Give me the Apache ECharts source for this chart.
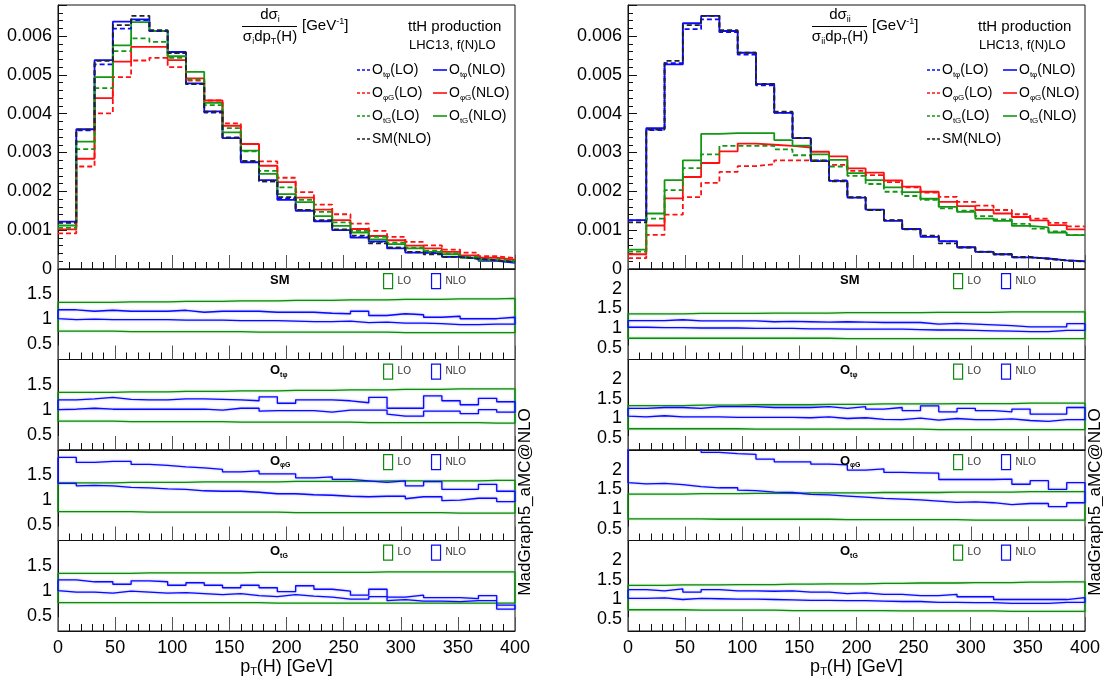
<!DOCTYPE html>
<html><head><meta charset="utf-8">
<script src="https://cdn.jsdelivr.net/npm/echarts@6/dist/echarts.min.js"></script>
<style>html,body{margin:0;padding:0;background:#fff}#c{width:1103px;height:681px}</style>
</head><body><div id="c"></div>
<script>
// ---------------- DATA ----------------
// bin edges of p_T(H) [GeV]
const binEdges = [0,16,32,48,64,80,96,112,128,144,160,176,192,208,224,240,256,272,288,304,320,336,352,368,384,400];

// Left main panel: (1/sigma_i) dsigma_i/dpT, units of 1e-3 GeV^-1
const L_tphi_LO  = [1.19,3.57,5.27,6.19,6.41,6.13,5.56,4.76,4.03,3.39,2.78,2.26,1.82,1.52,1.24,1.01,0.82,0.70,0.55,0.43,0.39,0.31,0.27,0.22,0.17];
const L_tphi_NLO = [1.22,3.60,5.38,6.37,6.43,6.13,5.59,4.78,4.06,3.37,2.75,2.29,1.78,1.50,1.23,1.00,0.81,0.71,0.53,0.42,0.40,0.31,0.27,0.21,0.16];
const L_phiG_LO  = [0.92,2.64,4.01,4.94,5.37,5.44,5.20,4.85,4.34,3.75,3.22,2.77,2.35,1.98,1.66,1.41,1.17,0.98,0.83,0.70,0.61,0.50,0.42,0.33,0.28];
const L_phiG_NLO = [1.02,2.84,4.40,5.34,5.72,5.72,5.38,4.91,4.34,3.69,3.22,2.66,2.24,1.84,1.53,1.26,1.03,0.85,0.74,0.60,0.53,0.44,0.35,0.29,0.24];
const L_tG_LO    = [1.06,3.09,4.66,5.61,5.94,5.85,5.44,4.88,4.22,3.63,3.03,2.53,2.10,1.78,1.47,1.20,0.98,0.83,0.68,0.55,0.47,0.40,0.31,0.25,0.21];
const L_tG_NLO   = [1.12,3.28,4.94,5.76,6.36,6.13,5.48,5.08,4.28,3.52,3.05,2.45,1.93,1.72,1.36,1.11,0.94,0.76,0.64,0.53,0.44,0.38,0.29,0.23,0.18];
const L_SM_NLO   = [1.20,3.59,5.36,6.28,6.52,6.15,5.57,4.77,4.05,3.38,2.78,2.26,1.85,1.52,1.26,1.02,0.86,0.66,0.55,0.44,0.38,0.31,0.26,0.22,0.19];

// Right main panel: (1/sigma_ii) dsigma_ii/dpT, units of 1e-3 GeV^-1
const R_tphi_LO  = [1.25,3.58,5.30,6.18,6.43,6.10,5.52,4.73,4.03,3.38,2.80,2.28,1.84,1.52,1.25,1.03,0.84,0.71,0.56,0.45,0.38,0.30,0.27,0.22,0.20];
const R_tphi_NLO = [1.26,3.63,5.27,6.33,6.52,6.13,5.57,4.76,4.02,3.37,2.78,2.27,1.84,1.53,1.24,1.03,0.83,0.72,0.56,0.44,0.38,0.30,0.27,0.22,0.20];
const R_phiG_LO  = [0.28,0.88,1.40,1.85,2.22,2.50,2.65,2.70,2.80,2.80,2.78,2.68,2.53,2.42,2.24,2.10,1.97,1.86,1.73,1.63,1.52,1.41,1.30,1.19,1.10];
const R_phiG_NLO = [0.38,1.12,1.82,2.37,2.73,3.03,3.23,3.20,3.17,3.13,3.02,2.90,2.59,2.48,2.28,2.12,1.99,1.73,1.62,1.52,1.43,1.34,1.25,1.13,1.02];
const R_tG_LO    = [0.45,1.30,2.03,2.60,2.95,3.17,3.17,3.17,3.08,2.93,2.80,2.64,2.40,2.19,1.99,1.88,1.78,1.56,1.50,1.36,1.28,1.16,1.04,0.97,0.87];
const R_tG_NLO   = [0.50,1.43,2.29,2.80,3.48,3.50,3.50,3.50,3.32,3.18,2.95,2.81,2.47,2.29,2.10,1.98,1.81,1.60,1.47,1.30,1.24,1.11,1.07,0.94,0.87];
const R_SM_NLO   = [1.20,3.59,5.36,6.28,6.52,6.15,5.57,4.77,4.05,3.38,2.78,2.26,1.85,1.52,1.26,1.02,0.86,0.66,0.55,0.44,0.38,0.31,0.26,0.22,0.19];

// Ratio panels (scale bands relative to central): upper / lower edges
// Left figure
const L_SM_LOup   = [1.34,1.34,1.34,1.35,1.35,1.35,1.36,1.36,1.36,1.37,1.37,1.37,1.38,1.38,1.38,1.39,1.39,1.39,1.40,1.40,1.40,1.41,1.41,1.41,1.42];
const L_SM_LOdn   = [0.76,0.76,0.76,0.76,0.75,0.75,0.75,0.75,0.75,0.75,0.75,0.74,0.74,0.74,0.74,0.74,0.74,0.74,0.74,0.73,0.73,0.73,0.73,0.73,0.73];
const L_SM_NLOup  = [1.19,1.16,1.18,1.16,1.16,1.16,1.18,1.14,1.16,1.16,1.16,1.14,1.14,1.14,1.12,1.11,1.16,1.075,1.11,1.09,1.04,1.06,1.01,1.01,1.04];
const L_SM_NLOdn  = [1.01,0.99,1.00,0.99,0.99,0.99,0.99,0.98,0.98,0.98,0.97,0.97,0.97,0.96,0.95,0.95,0.96,0.93,0.94,0.92,0.92,0.91,0.89,0.89,0.90];
const L_tphi_LOup  = [1.35,1.35,1.35,1.36,1.36,1.36,1.37,1.37,1.37,1.38,1.38,1.38,1.39,1.39,1.39,1.40,1.40,1.40,1.41,1.41,1.41,1.42,1.42,1.42,1.42];
const L_tphi_LOdn  = [0.77,0.77,0.77,0.77,0.76,0.76,0.76,0.76,0.76,0.76,0.75,0.75,0.75,0.75,0.75,0.75,0.75,0.74,0.74,0.74,0.74,0.74,0.74,0.74,0.73];
const L_tphi_NLOup = [1.20,1.22,1.25,1.21,1.20,1.20,1.22,1.22,1.21,1.20,1.18,1.26,1.13,1.20,1.20,1.18,1.14,1.25,1.03,1.03,1.28,1.18,1.10,1.23,1.16];
const L_tphi_NLOdn = [1.00,1.01,1.03,1.01,1.01,1.01,1.01,1.01,1.01,0.99,1.03,0.97,0.98,0.98,0.98,0.95,0.99,0.99,0.91,0.87,0.97,0.97,0.92,1.00,0.95];
const L_phiG_LOup  = [1.35,1.35,1.35,1.36,1.36,1.36,1.36,1.37,1.37,1.37,1.37,1.37,1.38,1.38,1.38,1.38,1.38,1.39,1.39,1.39,1.39,1.39,1.39,1.40,1.40];
const L_phiG_LOdn  = [0.77,0.77,0.77,0.77,0.77,0.76,0.76,0.76,0.76,0.76,0.76,0.76,0.76,0.75,0.75,0.75,0.75,0.75,0.75,0.75,0.75,0.75,0.74,0.74,0.74];
const L_phiG_NLOup = [1.86,1.76,1.78,1.78,1.72,1.70,1.67,1.65,1.62,1.57,1.59,1.53,1.53,1.45,1.47,1.42,1.39,1.36,1.39,1.29,1.375,1.22,1.22,1.32,1.18];
const L_phiG_NLOdn = [1.34,1.29,1.30,1.29,1.26,1.25,1.23,1.22,1.19,1.18,1.18,1.16,1.13,1.13,1.11,1.10,1.08,1.07,1.08,1.03,1.07,0.99,1.00,1.04,0.97];
const L_tG_LOup    = [1.35,1.35,1.35,1.35,1.36,1.36,1.36,1.36,1.36,1.36,1.37,1.37,1.37,1.37,1.37,1.37,1.37,1.38,1.38,1.38,1.38,1.38,1.38,1.38,1.38];
const L_tG_LOdn    = [0.76,0.76,0.76,0.76,0.76,0.76,0.76,0.76,0.76,0.76,0.76,0.76,0.75,0.75,0.75,0.75,0.75,0.75,0.75,0.75,0.75,0.75,0.75,0.75,0.75];
const L_tG_NLOup   = [1.22,1.18,1.18,1.13,1.20,1.18,1.11,1.16,1.11,1.06,1.11,1.06,0.98,1.10,1.03,0.99,0.91,1.03,0.87,0.91,0.86,0.86,0.84,0.90,0.71];
const L_tG_NLOdn   = [1.00,0.97,0.97,0.95,0.99,0.97,0.95,0.96,0.94,0.92,0.94,0.90,0.88,0.92,0.89,0.87,0.83,0.88,0.80,0.82,0.79,0.79,0.78,0.80,0.63];
// Right figure
const R_SM_LOup   = [1.36,1.36,1.36,1.37,1.37,1.37,1.37,1.38,1.38,1.38,1.38,1.39,1.39,1.39,1.39,1.39,1.40,1.40,1.40,1.40,1.41,1.41,1.41,1.41,1.41];
const R_SM_LOdn   = [0.74,0.74,0.74,0.74,0.74,0.74,0.74,0.74,0.74,0.74,0.74,0.74,0.73,0.73,0.73,0.73,0.73,0.73,0.73,0.73,0.73,0.73,0.73,0.73,0.73];
const R_SM_NLOup  = [1.19,1.19,1.21,1.18,1.18,1.18,1.18,1.16,1.17,1.16,1.15,1.16,1.15,1.14,1.14,1.14,1.10,1.12,1.10,1.08,1.06,1.03,1.03,1.03,1.11];
const R_SM_NLOdn  = [1.02,1.02,1.01,1.01,1.00,1.00,1.00,0.99,0.99,0.99,0.98,0.98,0.97,0.97,0.97,0.97,0.96,0.95,0.95,0.94,0.93,0.92,0.91,0.91,0.94];
const R_tphi_LOup  = [1.33,1.33,1.33,1.34,1.34,1.34,1.35,1.35,1.35,1.35,1.36,1.36,1.36,1.37,1.37,1.37,1.37,1.38,1.38,1.38,1.38,1.39,1.39,1.39,1.39];
const R_tphi_LOdn  = [0.74,0.74,0.74,0.74,0.74,0.74,0.74,0.73,0.73,0.73,0.73,0.73,0.73,0.73,0.73,0.73,0.73,0.72,0.72,0.72,0.72,0.72,0.72,0.72,0.72];
const R_tphi_NLOup = [1.26,1.28,1.28,1.26,1.30,1.30,1.30,1.28,1.28,1.28,1.30,1.26,1.30,1.24,1.28,1.20,1.32,1.17,1.26,1.20,1.17,1.24,1.11,1.11,1.28];
const R_tphi_NLOdn = [1.06,1.04,1.07,1.04,1.04,1.04,1.03,1.03,1.03,1.03,1.02,1.04,1.00,1.02,0.98,0.97,1.01,0.96,1.00,0.97,0.97,0.99,0.95,0.93,0.97];
const R_phiG_LOup  = [1.38,1.38,1.38,1.39,1.39,1.39,1.40,1.40,1.40,1.41,1.41,1.41,1.41,1.42,1.42,1.42,1.42,1.43,1.43,1.43,1.43,1.44,1.44,1.44,1.44];
const R_phiG_LOdn  = [0.75,0.75,0.75,0.75,0.75,0.74,0.74,0.74,0.74,0.74,0.74,0.74,0.73,0.73,0.73,0.73,0.73,0.73,0.73,0.72,0.72,0.72,0.72,0.72,0.72];
const R_phiG_NLOup = [2.70,2.65,2.62,2.60,2.44,2.41,2.39,2.27,2.20,2.20,2.14,2.12,1.99,2.02,1.93,1.92,1.91,1.75,1.75,1.75,1.76,1.63,1.72,1.50,1.67];
const R_phiG_NLOdn = [1.67,1.64,1.65,1.62,1.57,1.54,1.48,1.47,1.43,1.42,1.37,1.36,1.33,1.30,1.27,1.25,1.23,1.20,1.17,1.18,1.16,1.11,1.14,1.06,1.16];
const R_tG_LOup    = [1.36,1.36,1.37,1.37,1.37,1.38,1.38,1.38,1.39,1.39,1.40,1.40,1.40,1.41,1.41,1.42,1.42,1.42,1.43,1.43,1.43,1.44,1.44,1.45,1.45];
const R_tG_LOdn    = [0.74,0.74,0.74,0.74,0.73,0.73,0.73,0.73,0.73,0.72,0.72,0.72,0.72,0.72,0.72,0.71,0.71,0.71,0.71,0.71,0.71,0.70,0.70,0.70,0.70];
const R_tG_NLOup   = [1.25,1.22,1.27,1.19,1.25,1.22,1.22,1.21,1.22,1.19,1.19,1.15,1.17,1.13,1.13,1.10,1.10,1.13,1.07,1.07,1.00,1.00,1.00,1.00,1.05];
const R_tG_NLOdn   = [1.03,1.03,1.04,1.00,1.03,1.02,1.01,1.01,1.00,0.99,0.98,0.98,0.97,0.97,0.96,0.95,0.95,0.93,0.93,0.92,0.92,0.90,0.90,0.90,0.93];

const leftRatioTicks  = [0.5,1,1.5];
const rightRatioTicks = [0.5,1,1.5,2];
const mainYTicks = [0,0.001,0.002,0.003,0.004,0.005,0.006];

// legend entries (two columns)
const legendCol1 = ['Otφ(LO)','OφG(LO)','OtG(LO)','SM(NLO)'];
const legendCol2 = ['Otφ(NLO)','OφG(NLO)','OtG(NLO)'];

// ---------------- BUILD ----------------
const F = '"Liberation Sans", Arial, Helvetica, sans-serif';
const BLUE='#0a0aff', RED='#ff1010', GREEN='#129812', GB='#0c8c0c', BLACK='#222';
const styleOf = {
  'Otφ(LO)':[BLUE,true], 'Otφ(NLO)':[BLUE,false], 'OφG(LO)':[RED,true], 'OφG(NLO)':[RED,false],
  'OtG(LO)':[GREEN,true], 'OtG(NLO)':[GREEN,false], 'SM(NLO)':[BLACK,true]
};

function steps(vals, scale){
  const p=[];
  for(let i=0;i<vals.length;i++){ p.push([binEdges[i], vals[i]*scale]); p.push([binEdges[i+1], vals[i]*scale]); }
  return p;
}
function band(up, dn){
  const a = steps(up,1), b = steps(dn,1).reverse();
  return a.concat(b, [[binEdges[0], up[0]]]);
}

const chart = echarts.init(document.getElementById('c'), null, {renderer:'canvas'});
const LX=[58,628], W=457;
const mainTop=5, mainH=264;
const rTops=[269,359.5,450,540.5], rH=90.5;

const grids=[], xAxes=[], yAxes=[], series=[], legends=[], titles=[];
const axLine={show:true, lineStyle:{color:'#111', width:1}};

function addX(gi, bottom){
  xAxes.push({type:'value', gridIndex:gi, min:0, max:400, interval:50,
    axisLine:axLine,
    axisTick:{show:true, inside:true, length:14, lineStyle:{color:'#555', width:1}},
    minorTick:{show:true, splitNumber:5, length:7, lineStyle:{color:'#111', width:1}},
    splitLine:{show:false}, minorSplitLine:{show:false},
    axisLabel:{show:bottom, fontSize:18, fontFamily:F, color:'#000', margin:8},
    name: bottom ? '{p|p}{s|T}{p|(H) [GeV]}' : '',
    nameLocation:'middle', nameGap:22,
    nameTextStyle:{rich:{p:{fontSize:18,fontFamily:F,color:'#000',lineHeight:22},
                         s:{fontSize:11,fontFamily:F,color:'#000',lineHeight:10,verticalAlign:'bottom'}}}
  });
}

function mainPanel(side){
  const gi=grids.length;
  grids.push({left:LX[side], top:mainTop, width:W, height:mainH, show:true, borderColor:'#111', borderWidth:1});
  addX(gi,false);
  yAxes.push({type:'value', gridIndex:gi, min:0, max:0.0068, interval:0.001,
    axisLine:axLine,
    axisTick:{show:true, inside:true, length:9, lineStyle:{color:'#111'}},
    minorTick:{show:true, splitNumber:5, length:5, lineStyle:{color:'#111'}},
    splitLine:{show:false},
    axisLabel:{fontSize:18, fontFamily:F, color:'#000', margin:6,
      customValues: mainYTicks, formatter:(v)=> v===0?'0':v.toFixed(3)}
  });
  return gi;
}

function ratioPanel(side, k, bottom){
  const gi=grids.length;
  grids.push({left:LX[side], top:rTops[k], width:W, height:rH, show:true, borderColor:'#111', borderWidth:1});
  addX(gi,bottom);
  yAxes.push({type:'value', gridIndex:gi,
    min: side===0?0.19:0.2, max: side===0?2.01:2.5,
    axisLine:axLine, axisTick:{show:false}, splitLine:{show:false},
    axisLabel:{fontSize:18, fontFamily:F, color:'#000', margin:6,
      customValues: side===0?leftRatioTicks:rightRatioTicks, formatter:(v)=>String(v)}
  });
  return gi;
}

function hist(name, vals, gi){
  const [color, dashed] = styleOf[name];
  series.push({type:'line', name, xAxisIndex:gi, yAxisIndex:gi, data:steps(vals,1e-3),
    symbol:'none', animation:false, z: dashed?4:3,
    lineStyle:{color, width:1.8, type: dashed?[5,3]:'solid'}, itemStyle:{color}});
}
function bandSeries(name, up, dn, color, gi){
  series.push({type:'line', name, xAxisIndex:gi, yAxisIndex:gi, data:band(up,dn),
    symbol:'none', animation:false, z:3,
    lineStyle:{color, width:1.3, shadowColor: color===BLUE?'rgba(90,90,255,0.6)':'rgba(60,170,60,0.6)', shadowBlur:2},
    itemStyle:{color}});
}

const gRich = {
  m:{fontSize:15, fontFamily:F, fill:'#000', lineHeight:18},
  o:{fontSize:14, fontFamily:F, fill:'#000', lineHeight:18},
  s:{fontSize:9, fontFamily:F, fill:'#000', lineHeight:8, verticalAlign:'bottom'},
  t:{fontSize:8, fontFamily:F, fill:'#000', lineHeight:8, verticalAlign:'bottom'},
  u:{fontSize:9, fontFamily:F, fill:'#000', lineHeight:8, verticalAlign:'top'}
};
const legFmt = {
  'Otφ(LO)':'{o|O}{t|tφ}{o|(LO)}', 'Otφ(NLO)':'{o|O}{t|tφ}{o|(NLO)}',
  'OφG(LO)':'{o|O}{t|φG}{o|(LO)}', 'OφG(NLO)':'{o|O}{t|φG}{o|(NLO)}',
  'OtG(LO)':'{o|O}{t|tG}{o|(LO)}', 'OtG(NLO)':'{o|O}{t|tG}{o|(NLO)}',
  'SM(NLO)':'{o|SM(NLO)}'
};
const graphics=[];
function legendColumn(names, x0, lineLen, off){
  names.forEach((n,i)=>{
    const y = 70 + i*23;
    const [color,dashed] = styleOf[n];
    graphics.push({type:'line', silent:true, shape:{x1:x0+off, y1:y, x2:x0+lineLen+off, y2:y},
      style:{stroke:color, lineWidth:1.6, lineDash: dashed?[3,2]:null}});
    graphics.push({type:'text', silent:true, x:x0+lineLen+2+off, y:y, style:{text:legFmt[n], rich:gRich, align:'left', verticalAlign:'middle'}});
  });
}

const sides = [
  {main:[L_tphi_LO,L_tphi_NLO,L_phiG_LO,L_phiG_NLO,L_tG_LO,L_tG_NLO,L_SM_NLO],
   ratio:[[L_SM_LOup,L_SM_LOdn,L_SM_NLOup,L_SM_NLOdn],[L_tphi_LOup,L_tphi_LOdn,L_tphi_NLOup,L_tphi_NLOdn],
          [L_phiG_LOup,L_phiG_LOdn,L_phiG_NLOup,L_phiG_NLOdn],[L_tG_LOup,L_tG_LOdn,L_tG_NLOup,L_tG_NLOdn]]},
  {main:[R_tphi_LO,R_tphi_NLO,R_phiG_LO,R_phiG_NLO,R_tG_LO,R_tG_NLO,R_SM_NLO],
   ratio:[[R_SM_LOup,R_SM_LOdn,R_SM_NLOup,R_SM_NLOdn],[R_tphi_LOup,R_tphi_LOdn,R_tphi_NLOup,R_tphi_NLOdn],
          [R_phiG_LOup,R_phiG_LOdn,R_phiG_NLOup,R_phiG_NLOdn],[R_tG_LOup,R_tG_LOdn,R_tG_NLOup,R_tG_NLOdn]]}
];
const panelNames = ['{b|SM}','{b|O}{s|tφ}','{b|O}{s|φG}','{b|O}{s|tG}'];

sides.forEach((S, side)=>{
  const gi = mainPanel(side);
  hist('Otφ(NLO)', S.main[1], gi);
  hist('OφG(NLO)', S.main[3], gi);
  hist('OtG(NLO)', S.main[5], gi);
  hist('Otφ(LO)', S.main[0], gi);
  hist('OφG(LO)', S.main[2], gi);
  hist('OtG(LO)', S.main[4], gi);
  hist('SM(NLO)', S.main[6], gi);
  const off = side*570;
  legendColumn(legendCol1, 357, 13, off);
  legendColumn(legendCol2, 433, 14, off);
  for(let k=0;k<4;k++){
    const g = ratioPanel(side, k, k===3);
    const r = S.ratio[k];
    bandSeries('LO', r[0], r[1], GB, g);
    bandSeries('NLO', r[2], r[3], BLUE, g);
    legends.push({orient:'horizontal', left:383+off, top:rTops[k]+4, padding:0, itemWidth:9, itemHeight:15, itemGap:20,
      selectedMode:false, textStyle:{fontSize:10, fontFamily:F, color:'#333'},
      data:[{name:'LO', icon:'rect', itemStyle:{color:'#fff', borderColor:GB, borderWidth:1.2}},
            {name:'NLO', icon:'rect', itemStyle:{color:'#fff', borderColor:BLUE, borderWidth:1.2}}]});
    titles.push({text:panelNames[k], left:270+off, top:rTops[k]+3, padding:0,
      textStyle:{rich:{b:{fontSize:13, fontWeight:'bold', fontFamily:F, color:'#000', lineHeight:16},
                       s:{fontSize:7, fontWeight:'bold', fontFamily:F, color:'#000', lineHeight:6, verticalAlign:'bottom'}}}});
  }
});

// ---------------- text graphics ----------------
[['i',0],['ii',1]].forEach(([sub,side])=>{
  const off=side*570;
  graphics.push({type:'text', x:270+off, y:15, style:{text:'{m|dσ}{s|'+sub+'}', rich:gRich, align:'center', verticalAlign:'middle'}});
  graphics.push({type:'line', shape:{x1:242+off, y1:26.5, x2:297+off, y2:26.5}, style:{stroke:'#000', lineWidth:1.2}});
  graphics.push({type:'text', x:270+off, y:37, style:{text:'{m|σ}{s|'+sub+'}{m|dp}{s|T}{m|(H)}', rich:gRich, align:'center', verticalAlign:'middle'}});
  graphics.push({type:'text', x:302+off, y:26, style:{text:'{m|[GeV}{u|-1}{m|]}', rich:gRich, align:'left', verticalAlign:'middle'}});
  graphics.push({type:'text', x:408+off, y:27, style:{text:'ttH production', font:'15px '+F, fill:'#000', align:'left', verticalAlign:'middle'}});
  graphics.push({type:'text', x:409+off, y:45, style:{text:'LHC13, f(N)LO', font:'13px '+F, fill:'#000', align:'left', verticalAlign:'middle'}});
  graphics.push({type:'text', x:525+off, y:502, rotation:Math.PI/2, style:{text:'MadGraph5_aMC@NLO', font:'17px '+F, fill:'#000', align:'center', verticalAlign:'middle'}});
});

chart.setOption({
  animation:false,
  backgroundColor:'#fff',
  title: titles,
  grid: grids,
  xAxis: xAxes,
  yAxis: yAxes,
  legend: legends,
  series: series,
  graphic: graphics
});
</script>
</body></html>
